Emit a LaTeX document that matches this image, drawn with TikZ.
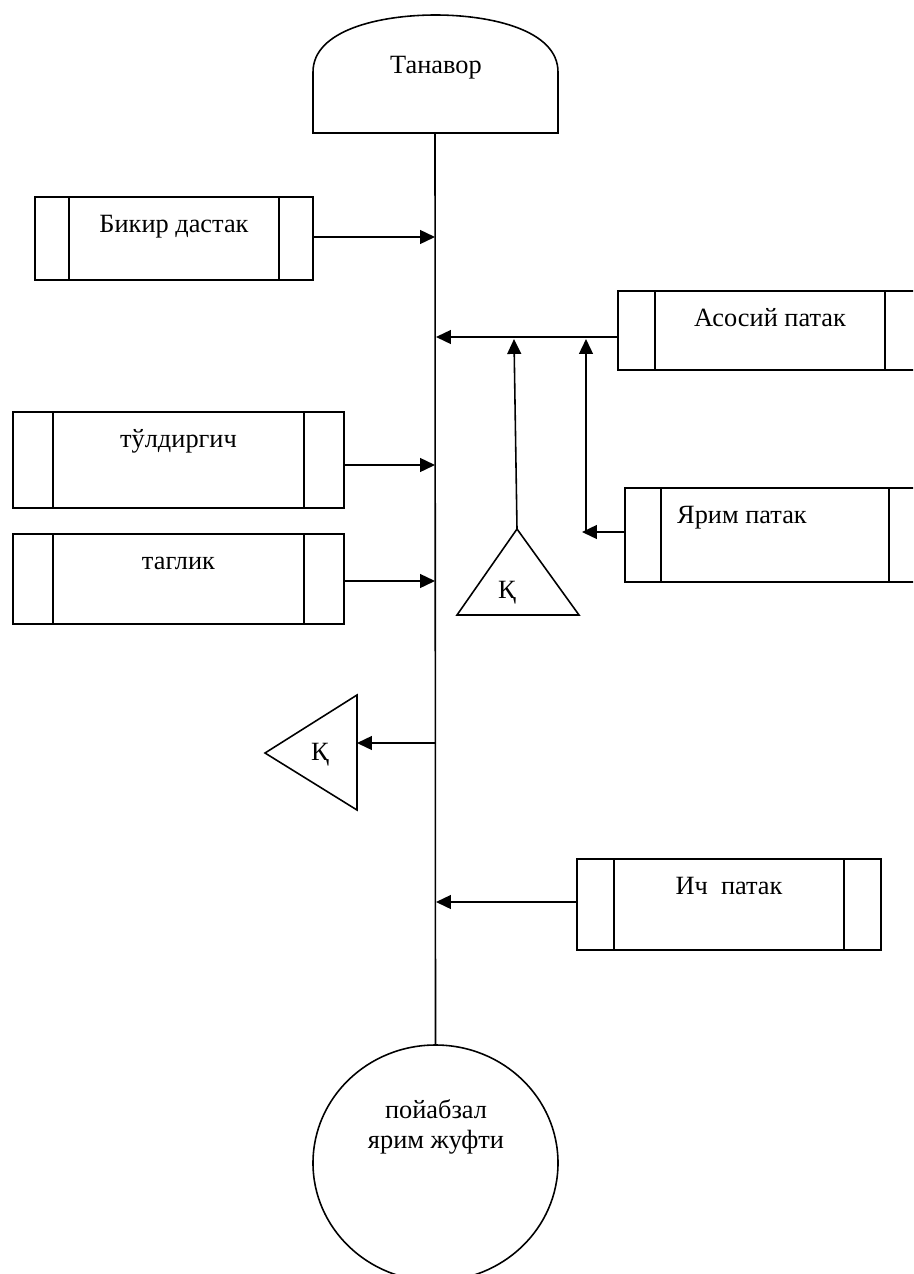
\documentclass[tikz,border=0pt]{standalone}
\usepackage{fontspec}
\setmainfont{Liberation Serif}
\usetikzlibrary{arrows.meta,shapes.geometric,positioning}
\newdimen\px
\px=0.02cm

\begin{document}
\begin{tikzpicture}[
  x=0.02cm, y=-0.02cm,
  line width=0.9pt,
  every node/.style={font=\fontsize{15}{17}\selectfont},
  procbox/.style n args={3}{draw, rectangle, anchor=north, inner sep=0pt,
    minimum width=#1\px, text height=36\px, text depth=#2\px,
    path picture={
      \draw ([xshift=#3\px]path picture bounding box.north west) -- ([xshift=#3\px]path picture bounding box.south west);
      \draw ([xshift=-#3\px]path picture bounding box.north east) -- ([xshift=-#3\px]path picture bounding box.south east);
    }},
  arr/.style={-{Triangle[length=8.5pt,width=7.9pt]}}
]
\path[use as bounding box, clip] (0,0) rectangle (913,1274);

\draw (313,133) -- (313,72) .. controls (313,30) and (380,15) .. (435.5,15)
  .. controls (491,15) and (558,30) .. (558,72) -- (558,133) -- cycle;
\node[anchor=base] (tanavor) at (436,74) {Танавор};
\coordinate (tanb) at (435,133);

\node[draw, ellipse, minimum width=245\px, minimum height=236\px, inner sep=0pt] (poyabzal) at (435.5,1163) {};
\node[align=center] (poytext) at (436,1127) {пойабзал\\ярим жуфти};
\draw (tanb) -- (poyabzal.north);

\node[procbox={278}{47}{34}] (bikir) at (174,196) {Бикир дастак};
\node[procbox={331}{60}{40}] (tuldir) at (178.5,411) {тўлдиргич};
\node[procbox={331}{54}{40}] (taglik) at (178.5,533) {таглик};
\node[procbox={304}{43}{37}] (asosiy) at (770,290) {Асосий патак};
\node[procbox={300}{58}{36}] (yarim) at (775,487) {Ярим патак\hspace*{66\px}};
\node[procbox={304}{55}{37}] (ich) at (729,858) {Ич\ \ патак};

\coordinate (m1) at (435,237);
\coordinate (m2) at (436,337);
\coordinate (m3) at (435,465);
\coordinate (m4) at (435,581);
\coordinate (m5) at (435,743);
\coordinate (m6) at (436,902);

\draw[arr] (bikir.east |- m1) -- (m1);
\draw[arr] (tuldir.east |- m3) -- (m3);
\draw[arr] (taglik.east |- m4) -- (m4);
\draw[arr] (asosiy.west |- m2) -- (m2);
\draw[arr] (ich.west |- m6) -- (m6);

\coordinate (kup) at (517,529);
\draw (kup) -- (579,615) -- (457,615) -- cycle;
\node[anchor=base] (kupt) at (507,598) {Қ};
\coordinate (k1) at (514,339);
\draw[arr] (kup) -- (k1);

\coordinate (kl) at (265,753);
\draw (kl) -- (357,695) -- (357,810) -- cycle;
\node[anchor=base] (klt) at (320,760) {Қ};
\coordinate (klr) at (357,743);
\draw[arr] (m5) -- (klr);

\coordinate (j1) at (582,532);
\coordinate (j2) at (586,532);
\coordinate (j3) at (586,339);
\draw[arr] (yarim.west |- j1) -- (j1);
\draw[arr] (j2) -- (j3);
\end{tikzpicture}
\end{document}
